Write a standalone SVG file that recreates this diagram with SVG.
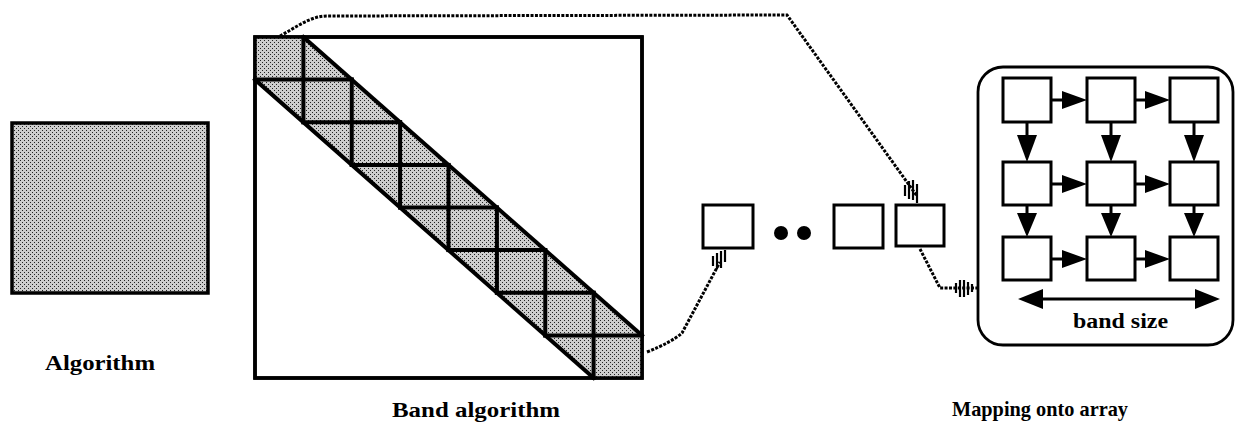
<svg xmlns="http://www.w3.org/2000/svg" width="1236" height="427" viewBox="0 0 1236 427">
<defs>
<pattern id="stip" width="4" height="4" patternUnits="userSpaceOnUse">
<rect width="4" height="4" fill="#cdcdcd"/>
<rect x="0" y="0" width="1" height="1" fill="#222"/>
<rect x="2" y="2" width="1" height="1" fill="#222"/>
</pattern>
<style>
.box{fill:#fff;stroke:#000;stroke-width:3}
.thick{stroke:#000;stroke-width:4;fill:none;stroke-linecap:square}
.dot{fill:none;stroke:#000;stroke-width:3;stroke-dasharray:3 1.4}
.hatch{stroke:#000;stroke-width:2.2}
.lbl{font-family:"Liberation Serif",serif;font-weight:bold;fill:#000}
.arr{stroke:#000;stroke-width:3;fill:none}
.head{fill:#000}
</style>
</defs>
<rect width="1236" height="427" fill="#fff"/>

<g id="algorithm">
<rect x="12" y="123" width="196" height="170" fill="url(#stip)" stroke="#000" stroke-width="3.5"/>
<text class="lbl" x="45" y="370" font-size="22" textLength="110" lengthAdjust="spacingAndGlyphs">Algorithm</text>
</g>

<g id="band-algorithm">
<rect x="255" y="37" width="387" height="341" fill="#fff" stroke="#000" stroke-width="3.5"/>
<polygon points="255,37 303.4,37 642,335.4 642,378 593.6,378 255,79.6" fill="url(#stip)"/>
<g class="thick">
<line x1="303.4" y1="37" x2="642" y2="335.4"/>
<line x1="255" y1="79.6" x2="593.6" y2="378"/>
<line x1="303.4" y1="37" x2="303.4" y2="122.25"/>
<line x1="351.75" y1="79.6" x2="351.75" y2="164.9"/>
<line x1="400.1" y1="122.25" x2="400.1" y2="207.5"/>
<line x1="448.5" y1="164.9" x2="448.5" y2="250.1"/>
<line x1="496.9" y1="207.5" x2="496.9" y2="292.75"/>
<line x1="545.25" y1="250.1" x2="545.25" y2="335.4"/>
<line x1="593.6" y1="292.75" x2="593.6" y2="378"/>
<line x1="255" y1="79.6" x2="351.75" y2="79.6"/>
<line x1="303.4" y1="122.25" x2="400.1" y2="122.25"/>
<line x1="351.75" y1="164.9" x2="448.5" y2="164.9"/>
<line x1="400.1" y1="207.5" x2="496.9" y2="207.5"/>
<line x1="448.5" y1="250.1" x2="545.25" y2="250.1"/>
<line x1="496.9" y1="292.75" x2="593.6" y2="292.75"/>
<line x1="545.25" y1="335.4" x2="642" y2="335.4"/>
</g>
<rect x="255" y="37" width="387" height="341" fill="none" stroke="#000" stroke-width="3.5"/>
<text class="lbl" x="392" y="417" font-size="21" textLength="168" lengthAdjust="spacingAndGlyphs">Band algorithm</text>
</g>

<g id="linear-array">
<rect class="box" x="703" y="205" width="50" height="43"/>
<circle cx="781" cy="233" r="7"/>
<circle cx="804" cy="233" r="7"/>
<rect class="box" x="834" y="205" width="49" height="43"/>
<rect class="box" x="896" y="205" width="48" height="41"/>
</g>

<g id="mapping-array">
<rect x="978" y="67" width="255" height="278" rx="25" fill="#fff" stroke="#000" stroke-width="2.8"/>
<rect class="box" x="1003" y="78" width="48" height="44"/>
<rect class="box" x="1087" y="78" width="48" height="44"/>
<rect class="box" x="1170" y="78" width="48" height="44"/>
<rect class="box" x="1003" y="162" width="48" height="43"/>
<rect class="box" x="1087" y="162" width="48" height="43"/>
<rect class="box" x="1170" y="162" width="48" height="43"/>
<rect class="box" x="1003" y="237" width="48" height="43"/>
<rect class="box" x="1087" y="237" width="48" height="43"/>
<rect class="box" x="1170" y="237" width="48" height="43"/>
<g class="arr">
<line x1="1051" y1="100" x2="1064" y2="100"/>
<line x1="1135" y1="100" x2="1147" y2="100"/>
<line x1="1051" y1="184" x2="1064" y2="184"/>
<line x1="1135" y1="184" x2="1147" y2="184"/>
<line x1="1051" y1="259" x2="1064" y2="259"/>
<line x1="1135" y1="259" x2="1147" y2="259"/>
<line x1="1027" y1="122" x2="1027" y2="137"/>
<line x1="1111" y1="122" x2="1111" y2="137"/>
<line x1="1194" y1="122" x2="1194" y2="137"/>
<line x1="1027" y1="205" x2="1027" y2="215"/>
<line x1="1111" y1="205" x2="1111" y2="215"/>
<line x1="1194" y1="205" x2="1194" y2="215"/>
<line x1="1030" y1="299" x2="1208" y2="299"/>
</g>
<g class="head">
<polygon points="1062,91 1087,100 1062,109"/>
<polygon points="1145,91 1170,100 1145,109"/>
<polygon points="1062,175 1087,184 1062,193"/>
<polygon points="1145,175 1170,184 1145,193"/>
<polygon points="1062,250 1087,259 1062,268"/>
<polygon points="1145,250 1170,259 1145,268"/>
<polygon points="1017,135 1037,135 1027,162"/>
<polygon points="1101,135 1121,135 1111,162"/>
<polygon points="1184,135 1204,135 1194,162"/>
<polygon points="1017,213 1037,213 1027,237"/>
<polygon points="1101,213 1121,213 1111,237"/>
<polygon points="1184,213 1204,213 1194,237"/>
<polygon points="1018,299 1043,289 1043,309"/>
<polygon points="1220,299 1195,289 1195,309"/>
</g>
<text class="lbl" x="1073" y="328" font-size="20" textLength="95" lengthAdjust="spacingAndGlyphs">band size</text>
</g>

<g id="mapping-label">
<text class="lbl" x="952" y="416" font-size="21" textLength="176" lengthAdjust="spacingAndGlyphs">Mapping onto array</text>
</g>

<g id="connectors">
<path class="dot" d="M280,36 C295,28 310,16 327,16 L787,15 L917,196"/>
<g class="hatch">
<line x1="905" y1="185" x2="905" y2="196"/>
<line x1="909" y1="181" x2="909" y2="199"/>
<line x1="913" y1="180" x2="913" y2="200"/>
<line x1="917" y1="184" x2="917" y2="203"/>
</g>
<path class="dot" d="M647,352 Q672,342 682,333 L720,262"/>
<g class="hatch">
<line x1="713" y1="256" x2="713" y2="266"/>
<line x1="717" y1="253" x2="717" y2="269"/>
<line x1="721" y1="251" x2="721" y2="268"/>
<line x1="725" y1="250" x2="725" y2="262"/>
</g>
<path class="dot" d="M920,249 L940,288 L977,288"/>
<g class="hatch">
<line x1="956" y1="283" x2="956" y2="293"/>
<line x1="960" y1="280" x2="960" y2="297"/>
<line x1="964" y1="280" x2="964" y2="297"/>
<line x1="968" y1="282" x2="968" y2="295"/>
<line x1="972" y1="284" x2="972" y2="292"/>
</g>
</g>
</svg>
